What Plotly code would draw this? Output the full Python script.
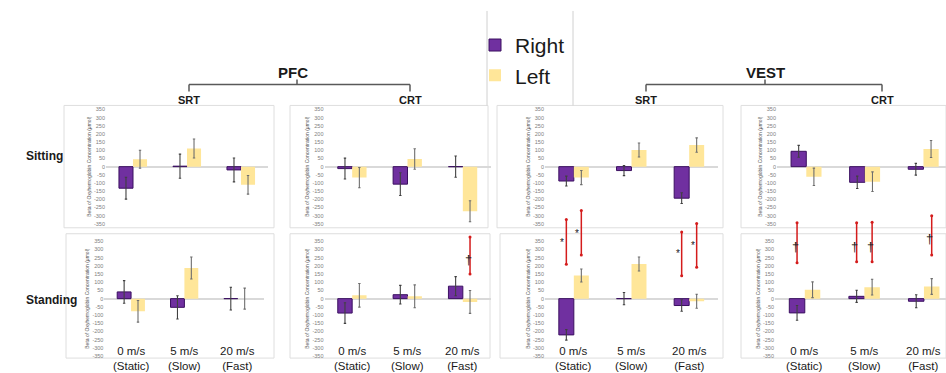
import plotly.graph_objects as go

W, H = 946, 373

# ---------------- data ----------------
speeds = ["0 m/s", "5 m/s", "20 m/s"]
paces = ["(Static)", "(Slow)", "(Fast)"]
regions = ["PFC", "VEST"]
tasks = ["SRT", "CRT", "SRT", "CRT"]
postures = ["Sitting", "Standing"]
y_title = "Beta of Oxyhemoglobin Concentration (μmol)"
y_ticks = [350, 300, 250, 200, 150, 100, 50, 0, -50, -100, -150, -200, -250, -300, -350]
y_ticktext = [str(v) for v in y_ticks]

# panels ordered: PFC-SRT, PFC-CRT, VEST-SRT, VEST-CRT ; values per speed
sit_right = [[-132, 3, -20], [-12, -107, 0], [-88, -24, -193], [94, -96, -16]]
sit_right_err = [[67, 74, 73], [64, 70, 65], [30, 31, 33], [36, 38, 36]]
sit_left = [[45, 111, -111], [-67, 47, -273], [-67, 102, 132], [-62, -92, 108]]
sit_left_err = [[55, 58, 57], [62, 63, 64], [43, 43, 44], [53, 60, 52]]
stand_right = [[41, -53, 0], [-88, 24, 76], [-221, 0, -42], [-87, 14, -16]]
stand_right_err = [[69, 71, 69], [63, 57, 58], [32, 37, 35], [45, 37, 40]]
stand_left = [[-77, 187, 0], [20, 14, -20], [141, 211, -16], [54, 70, 74]]
stand_left_err = [[66, 67, 64], [72, 70, 70], [40, 43, 43], [48, 48, 48]]

# significance markers (column index, speed index, side, top value on sitting axis,
# bottom value on standing axis, symbol, symbol value on standing axis)
sig_col = [1, 2, 2, 2, 2, 3, 3, 3, 3]
sig_cond = [2, 0, 0, 2, 2, 0, 1, 1, 2]
sig_side = ["Left", "Right", "Left", "Right", "Left", "Right", "Right", "Left", "Left"]
sig_top = [-423, -316, -261, -393, -340, -336, -336, -332, -292]
sig_bottom = [150, 209, 266, 139, 191, 219, 225, 225, 266]
sig_mark = ["†", "*", "*", "*", "*", "†", "†", "†", "†"]
sig_mark_y = [240, 340, 396, 272, 326, 316, 320, 320, 366]

# ---------------- geometry ----------------
RIGHT_C = "#7030A0"
LEFT_C = "#FFE699"
FONT = "Liberation Sans, Arial, sans-serif"
YR = [-360, 360]
ROW_DOM = [[0.395, 0.712], [0.0385, 0.357]]
COL_DOM = [
    [[106 / W, 268 / W], [324.5 / W, 490.5 / W], [545 / W, 718 / W], [777 / W, 1.0]],
    [[104.4 / W, 264.4 / W], [324.5 / W, 490.5 / W], [545 / W, 718 / W], [775 / W, 1.0]],
]
COL_RANGE = [
    [[-0.5, 2.5], [-0.5, 2.5], [-0.5, 2.5], [-0.5, 2.385]],
    [[-0.5, 2.5], [-0.5, 2.5], [-0.5, 2.5], [-0.5, 2.37]],
]


def to_px(v, dom):
    y0 = (1 - dom[0]) * H
    y1 = (1 - dom[1]) * H
    return y0 + (v - YR[0]) / (YR[1] - YR[0]) * (y1 - y0)


def px(x):
    return x / W


def py(y):
    return 1 - y / H


fig = go.Figure()
layout = dict(
    width=W, height=H,
    margin=dict(l=0, r=0, t=0, b=0),
    paper_bgcolor="white", plot_bgcolor="white",
    barmode="group", bargap=0.48, bargroupgap=0,
    font=dict(family=FONT, color="#1a1a1a"),
    showlegend=True,
    legend=dict(x=475 / W, y=py(24), xanchor="left", yanchor="top",
                font=dict(size=21, color="#1a1a1a", family=FONT),
                bgcolor="rgba(0,0,0,0)", tracegroupgap=0, itemwidth=30),
)

data_sets = [
    (sit_right, sit_right_err, sit_left, sit_left_err),
    (stand_right, stand_right_err, stand_left, stand_left_err),
]

for r in range(2):
    R, Re, L, Le = data_sets[r]
    for c in range(4):
        i = r * 4 + c + 1
        xa, ya = f"x{i}", f"y{i}"
        fig.add_trace(go.Bar(
            x=[0, 1, 2], y=R[c], name="Right", legendgroup="Right",
            showlegend=(i == 1), xaxis=xa, yaxis=ya,
            marker=dict(color=RIGHT_C, line=dict(color="#3b1060", width=1)),
            error_y=dict(type="data", array=Re[c], color="#404040", thickness=1.1, width=1.2),
        ))
        fig.add_trace(go.Bar(
            x=[0, 1, 2], y=L[c], name="Left", legendgroup="Left",
            showlegend=(i == 1), xaxis=xa, yaxis=ya,
            marker=dict(color=LEFT_C, line=dict(width=0)),
            error_y=dict(type="data", array=Le[c], color="#6e6e6e", thickness=1.1, width=1.2),
        ))
        key = "" if i == 1 else str(i)
        layout["xaxis" + key] = dict(
            domain=COL_DOM[r][c], range=COL_RANGE[r][c], anchor=ya,
            showticklabels=False, showgrid=False, zeroline=False, showline=False,
            ticks="", fixedrange=True,
        )
        layout["yaxis" + key] = dict(
            domain=ROW_DOM[r], range=YR, anchor=xa,
            tickvals=y_ticks, ticktext=y_ticktext, ticks="",
            tickfont=dict(size=5.5, color="#808080", family=FONT),
            showgrid=False, showline=False,
            zeroline=True, zerolinecolor="#d9d9d9", zerolinewidth=1.5,
            title=dict(text=y_title, font=dict(size=5, color="#555555", family=FONT), standoff=2),
            fixedrange=True,
        )

annotations = []
shapes = []


def label(x, y, text, size, xanchor="center", xref="paper"):
    annotations.append(dict(x=x, y=y, xref=xref, yref="paper", text=text, showarrow=False,
                            xanchor=xanchor, yanchor="middle",
                            font=dict(size=size, color="#1a1a1a", family=FONT)))


# speed labels under standing row
for c in range(4):
    i = 4 + c + 1
    for k in range(3):
        label(k, py(359.5), f"{speeds[k]}<br>{paces[k]}", 11.5, xref=f"x{i}")

# region headers + brackets
reg_center = [297, 765]
reg_ends = [(189, 410), (646, 882)]
for g in range(2):
    cx = reg_center[g]
    a, b = reg_ends[g]
    label(px(cx - 4 if g == 0 else cx), py(72), f"<b>{regions[g]}</b>", 15)
    for t, xx in enumerate((a, b)):
        label(px(xx), py(99.5), f"<b>{tasks[g * 2 + t]}</b>", 11)
    line = dict(color="#595959", width=1.5)
    shapes.append(dict(type="line", xref="paper", yref="paper", x0=px(a), x1=px(b), y0=py(84), y1=py(84), line=line))
    shapes.append(dict(type="line", xref="paper", yref="paper", x0=px(a), x1=px(a), y0=py(84), y1=py(91), line=line))
    shapes.append(dict(type="line", xref="paper", yref="paper", x0=px(b), x1=px(b), y0=py(84), y1=py(91), line=line))
    shapes.append(dict(type="line", xref="paper", yref="paper", x0=px(cx), x1=px(cx), y0=py(79), y1=py(84), line=line))

# posture labels
for r, yy in enumerate((156, 301)):
    label(px(24), py(yy), f"<b>{postures[r]}</b>", 12, xanchor="left")

# legend separators
for xx in (487, 573):
    shapes.append(dict(type="line", xref="paper", yref="paper", x0=px(xx), x1=px(xx),
                       y0=py(10), y1=py(105), line=dict(color="#d0d0d0", width=1)))

# panel frames
frames = [
    [(64, 105, 274, 228), (290, 105, 488, 228), (497, 105, 723, 228), (741, 105, 946, 228)],
    [(66, 234, 274, 359), (290, 234, 490, 359), (500, 234, 723, 359), (741, 234, 946, 359)],
]
for row in frames:
    for (x0, y0, x1, y1) in row:
        shapes.append(dict(type="rect", xref="paper", yref="paper", x0=px(x0), x1=px(x1),
                           y0=py(y1), y1=py(y0), line=dict(color="#dedede", width=1),
                           fillcolor="rgba(0,0,0,0)", layer="below"))

# significance lines and marks
for j in range(len(sig_col)):
    c = sig_col[j]
    i = 4 + c + 1
    xv = sig_cond[j] + (-0.13 if sig_side[j] == "Right" else 0.13)
    p_top = to_px(sig_top[j], ROW_DOM[0])
    p_bot = to_px(sig_bottom[j], ROW_DOM[1])
    annotations.append(dict(
        x=xv, y=sig_bottom[j], xref=f"x{i}", yref=f"y{i}",
        ax=0, ay=p_top - p_bot, axref="pixel", ayref="pixel",
        text="", showarrow=True, arrowcolor="#d41c1c", arrowwidth=1.5,
        arrowhead=6, startarrowhead=6, arrowside="end+start", arrowsize=0.5,
        startarrowsize=0.5, standoff=0, startstandoff=0,
    ))
    p_mark = to_px(sig_mark_y[j], ROW_DOM[1])
    annotations.append(dict(
        x=xv, y=py(p_mark), xref=f"x{i}", yref="paper", xanchor="center", yanchor="middle",
        text=sig_mark[j], showarrow=False, xshift=-4 if sig_mark[j] == "*" else -2,
        font=dict(size=10 if sig_mark[j] == "*" else 13, color="#1a1a1a", family=FONT),
    ))

layout["annotations"] = annotations
layout["shapes"] = shapes
fig.update_layout(**layout)
fig.write_html(
    "out.html",
    config={"displayModeBar": False},
    post_script="document.body.style.margin='0px';document.body.style.overflow='hidden';",
)
